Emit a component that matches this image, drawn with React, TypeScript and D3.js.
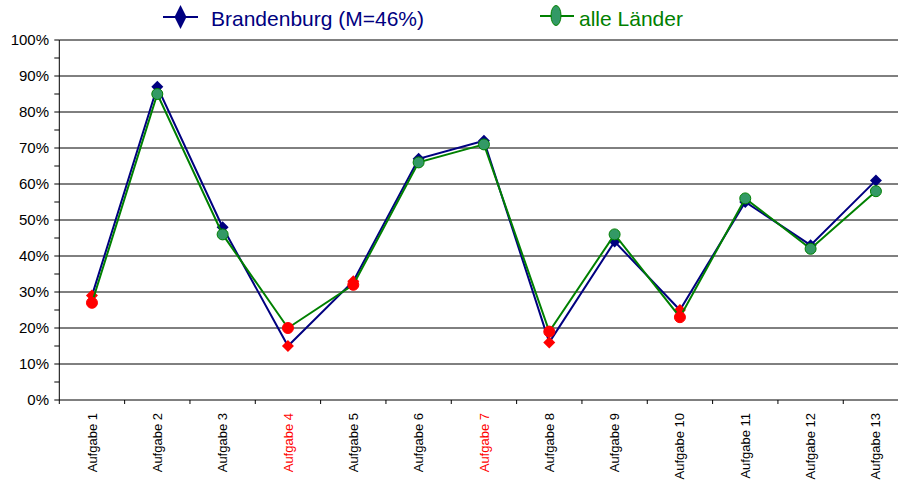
import React, { useRef, useEffect } from 'react';
import * as d3 from 'd3';

const categories = [
  'Aufgabe 1', 'Aufgabe 2', 'Aufgabe 3', 'Aufgabe 4', 'Aufgabe 5', 'Aufgabe 6', 'Aufgabe 7',
  'Aufgabe 8', 'Aufgabe 9', 'Aufgabe 10', 'Aufgabe 11', 'Aufgabe 12', 'Aufgabe 13',
];
const brandenburg = [29, 87, 48, 15, 33, 67, 72, 16, 44, 25, 55, 43, 61];
const alleLaender = [27, 85, 46, 20, 32, 66, 71, 19, 46, 23, 56, 42, 58];
// Aufgaben mit roter Beschriftung
const redLabels = ['Aufgabe 4', 'Aufgabe 7'];
// Punkte unter diesem Wert werden rot markiert
const lowThreshold = 35;
const yTicks = [0, 10, 20, 30, 40, 50, 60, 70, 80, 90, 100];
const legendLabels = ['Brandenburg (M=46%)', 'alle Länder'];

const W = 898;
const H = 484;
const FONT = '"Liberation Sans", Arial, sans-serif';
const NAVY = '#000080';
const GREEN = '#008000';
const GREEN_FILL = '#339966';
const RED = '#FF0000';

function App() {
  const svgRef = useRef<SVGSVGElement>(null);

  useEffect(() => {
    const svg = d3.select(svgRef.current);
    svg.selectAll('*').remove();

    const left = 59.3;
    const x = d3.scaleBand<string>().domain(categories).range([left, left + 65.33 * 13]);
    const y = d3.scaleLinear().domain([0, 100]).range([400, 40]);
    const cx = (c: string) => (x(c) as number) + x.bandwidth() / 2;

    // Gitterlinien
    svg
      .append('g')
      .selectAll('line')
      .data(yTicks)
      .join('line')
      .attr('x1', left)
      .attr('x2', W)
      .attr('y1', (d) => y(d))
      .attr('y2', (d) => y(d))
      .attr('stroke', '#000')
      .attr('stroke-width', 1);

    // Y-Achse
    const yAxis = svg.append('g');
    yAxis
      .append('line')
      .attr('x1', left)
      .attr('x2', left)
      .attr('y1', y(0))
      .attr('y2', y(100))
      .attr('stroke', '#000');
    yAxis
      .selectAll('line.tick')
      .data(d3.range(0, 101, 5))
      .join('line')
      .attr('class', 'tick')
      .attr('x1', left - 5)
      .attr('x2', left)
      .attr('y1', (d) => y(d))
      .attr('y2', (d) => y(d))
      .attr('stroke', '#000');
    yAxis
      .selectAll('text')
      .data(yTicks)
      .join('text')
      .attr('x', 49)
      .attr('y', (d) => y(d))
      .attr('dy', '0.36em')
      .attr('text-anchor', 'end')
      .attr('font-family', FONT)
      .attr('font-size', 15)
      .attr('fill', '#000')
      .text((d) => `${d}%`);

    // X-Achse
    const xAxis = svg.append('g');
    const bounds = categories.map((c) => x(c) as number).concat([x.range()[1]]);
    xAxis
      .selectAll('line')
      .data(bounds)
      .join('line')
      .attr('x1', (d) => d)
      .attr('x2', (d) => d)
      .attr('y1', y(0))
      .attr('y2', y(0) + 4)
      .attr('stroke', '#000');
    xAxis
      .selectAll('text')
      .data(categories)
      .join('text')
      .attr('transform', (d) => `translate(${cx(d)},413) rotate(-90)`)
      .attr('dy', '0.35em')
      .attr('text-anchor', 'end')
      .attr('font-family', FONT)
      .attr('font-size', 13)
      .attr('fill', (d) => (redLabels.includes(d) ? RED : '#000'))
      .text((d) => d);

    const line = d3
      .line<number>()
      .x((_, i) => cx(categories[i]))
      .y((d) => y(d));

    const diamond = (s: number) => `M0,${-s}L${s},0L0,${s}L${-s},0Z`;

    // Brandenburg
    svg
      .append('path')
      .datum(brandenburg)
      .attr('fill', 'none')
      .attr('stroke', NAVY)
      .attr('stroke-width', 2)
      .attr('d', line);
    svg
      .append('g')
      .selectAll('path')
      .data(brandenburg)
      .join('path')
      .attr('transform', (d, i) => `translate(${cx(categories[i])},${y(d)})`)
      .attr('d', diamond(6))
      .attr('fill', (d) => (d < lowThreshold ? RED : NAVY));

    // alle Länder
    svg
      .append('path')
      .datum(alleLaender)
      .attr('fill', 'none')
      .attr('stroke', GREEN)
      .attr('stroke-width', 2)
      .attr('d', line);
    svg
      .append('g')
      .selectAll('circle')
      .data(alleLaender)
      .join('circle')
      .attr('cx', (d, i) => cx(categories[i]))
      .attr('cy', (d) => y(d))
      .attr('r', 5.5)
      .attr('fill', (d) => (d < lowThreshold ? RED : GREEN_FILL))
      .attr('stroke', (d) => (d < lowThreshold ? RED : GREEN))
      .attr('stroke-width', 1);

    // Legende
    const lg = svg.append('g');
    lg.append('line')
      .attr('x1', 163).attr('x2', 198).attr('y1', 17).attr('y2', 17)
      .attr('stroke', NAVY).attr('stroke-width', 2);
    lg.append('path')
      .attr('transform', 'translate(180.5,17)')
      .attr('d', 'M0,-12L6,0L0,12L-6,0Z')
      .attr('fill', NAVY);
    lg.append('text')
      .attr('x', 211).attr('y', 26)
      .attr('font-family', FONT).attr('font-size', 21)
      .attr('fill', NAVY)
      .text(legendLabels[0]);
    lg.append('line')
      .attr('x1', 540).attr('x2', 574).attr('y1', 16).attr('y2', 16)
      .attr('stroke', GREEN).attr('stroke-width', 2);
    lg.append('ellipse')
      .attr('cx', 556).attr('cy', 15.5).attr('rx', 5).attr('ry', 10)
      .attr('fill', GREEN_FILL).attr('stroke', GREEN).attr('stroke-width', 1);
    lg.append('text')
      .attr('x', 579).attr('y', 26)
      .attr('font-family', FONT).attr('font-size', 21)
      .attr('fill', GREEN)
      .text(legendLabels[1]);
  }, []);

  return (
    <svg
      ref={svgRef}
      width={W}
      height={H}
      style={{ position: 'fixed', left: 0, top: 0, background: '#fff', display: 'block' }}
      xmlns="http://www.w3.org/2000/svg"
    />
  );
}

export default App;
